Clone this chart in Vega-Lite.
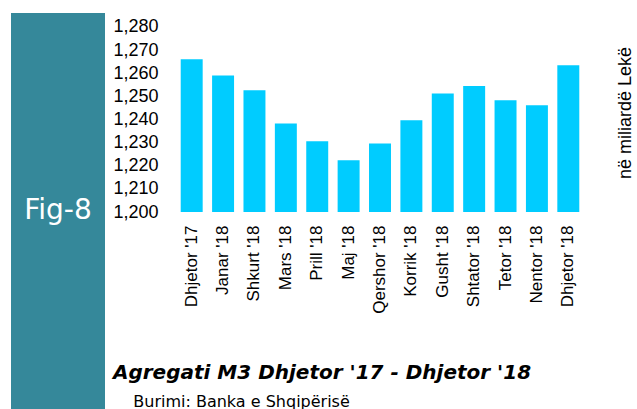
{
  "$schema": "https://vega.github.io/schema/vega-lite/v6.json",
  "background": "white",
  "padding": {"left": 11, "top": 13, "right": 0, "bottom": 0},
  "bounds": "flush",
  "spacing": 71,
  "config": {"view": {"stroke": null}},
  "hconcat": [
    {
      "width": 94,
      "height": 396,
      "view": {"fill": "#35889A", "stroke": null},
      "data": {"values": [{"label": "Fig-8"}]},
      "mark": {"type": "text", "color": "white", "font": "DejaVu Sans", "fontSize": 28, "baseline": "middle", "align": "center"},
      "encoding": {"text": {"field": "label"}}
    },
    {
      "width": 408,
      "height": 199,
      "data": {"values": [
        {"month": "Dhjetor '17", "value": 1266},
        {"month": "Janar '18", "value": 1259},
        {"month": "Shkurt '18", "value": 1252.6},
        {"month": "Mars '18", "value": 1238.2},
        {"month": "Prill '18", "value": 1230.6},
        {"month": "Maj '18", "value": 1222.4},
        {"month": "Qershor '18", "value": 1229.6},
        {"month": "Korrik '18", "value": 1239.7},
        {"month": "Gusht '18", "value": 1251.2},
        {"month": "Shtator '18", "value": 1254.4},
        {"month": "Tetor '18", "value": 1248.3},
        {"month": "Nentor '18", "value": 1246.1},
        {"month": "Dhjetor '18", "value": 1263.4}
      ]},
      "title": {
        "text": "Agregati M3 Dhjetor '17 - Dhjetor '18",
        "subtitle": "\u200b\u00a0\u00a0\u00a0\u00a0Burimi: Banka e Shqipërisë",
        "orient": "bottom",
        "anchor": "start",
        "frame": "bounds",
        "font": "DejaVu Sans",
        "fontSize": 20,
        "fontStyle": "italic",
        "fontWeight": "bold",
        "color": "black",
        "subtitleFont": "DejaVu Sans",
        "subtitleFontSize": 16,
        "subtitleColor": "black",
        "subtitlePadding": 11,
        "offset": 50
      },
      "layer": [
        {
          "mark": {"type": "bar", "color": "#00CCFF"},
          "encoding": {
            "x": {"field": "month", "type": "nominal", "sort": null,
              "scale": {"paddingInner": 0.3, "paddingOuter": 0.15},
              "axis": {"title": null, "labelAngle": -90, "labelFont": "Liberation Sans", "labelFontSize": 17, "labelColor": "black", "ticks": false, "domain": false, "labelPadding": 13}},
            "y": {"field": "value", "type": "quantitative",
              "scale": {"domain": [1200, 1286], "zero": false, "nice": false},
              "axis": {"title": null, "values": [1200, 1210, 1220, 1230, 1240, 1250, 1260, 1270, 1280], "format": ",.0f", "labelFont": "Liberation Sans", "labelFontSize": 18, "labelColor": "black", "ticks": false, "domain": false, "grid": false, "labelPadding": 18, "labelFlush": false, "labelOverlap": false}},
            "y2": {"datum": 1200}
          }
        },
        {
          "mark": {"type": "bar", "opacity": 0},
          "encoding": {
            "x": {"field": "month", "type": "nominal", "sort": null},
            "y": {"field": "value", "type": "quantitative",
              "axis": {"orient": "right", "title": "në miliardë Lekë", "labels": false, "ticks": false, "domain": false, "grid": false, "titleAngle": 270, "titleFont": "Liberation Sans", "titleFontSize": 18, "titleFontWeight": "normal", "titleColor": "black", "titlePadding": 50}},
            "y2": {"datum": 1200}
          }
        }
      ],
      "resolve": {"axis": {"y": "independent"}}
    }
  ]
}
